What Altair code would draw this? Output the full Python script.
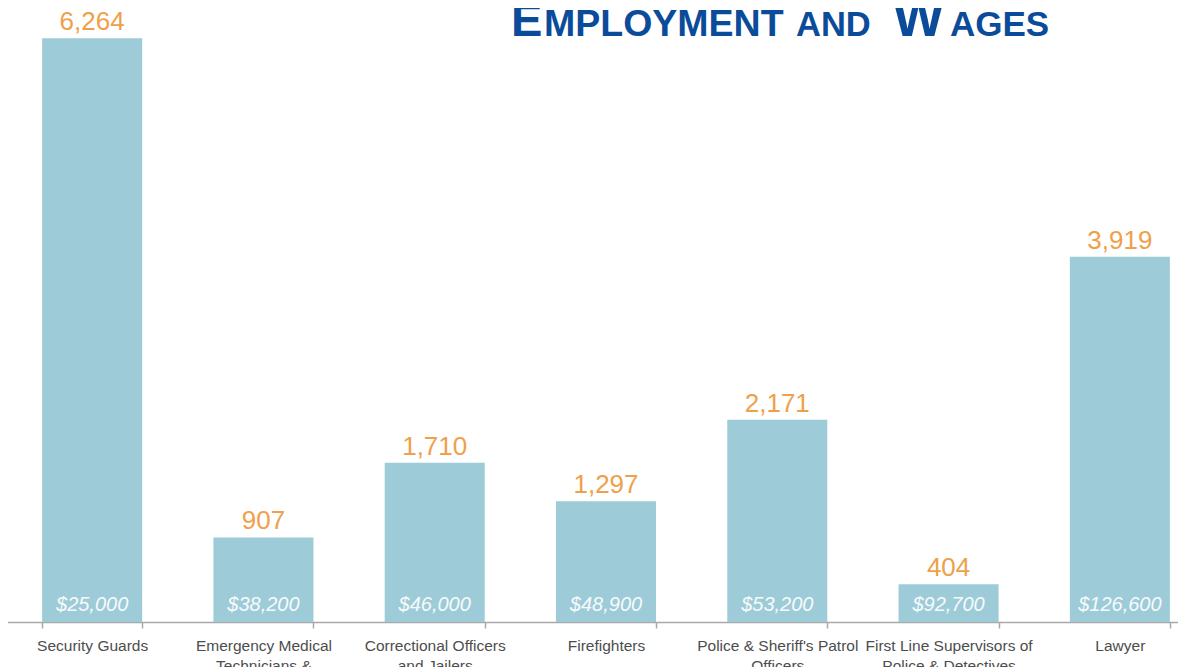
import altair as alt
import pandas as pd

categories = [
    "Security Guards",
    "Emergency Medical\nTechnicians &\nParamedics",
    "Correctional Officers\nand Jailers",
    "Firefighters",
    "Police & Sheriff's Patrol\nOfficers",
    "First Line Supervisors of\nPolice & Detectives",
    "Lawyer",
]
employment = [6264, 907, 1710, 1297, 2171, 404, 3919]
wages = [25000, 38200, 46000, 48900, 53200, 92700, 126600]

df = pd.DataFrame({"occupation": categories, "employment": employment, "wage": wages})

VIEW_W = 1170   # visible svg width (page is clipped at the window edge)
BAND_W = 1199   # full extent of the category bands (last band runs off-page)
H = 614
FONT = "Liberation Sans"
TITLE_COLOR = "#0B4C9A"

x = alt.X(
    "occupation:N",
    sort=categories,
    scale=alt.Scale(paddingInner=0.416, paddingOuter=0.208, range=[-1.5, BAND_W - 1.5]),
    axis=alt.Axis(
        title=None,
        labelAngle=0,
        labelExpr="split(datum.label, '\\n')",
        tickBand="extent",
        domainColor="#A9A9A9",
        domainWidth=1.5,
        tickColor="#A9A9A9",
        tickSize=6,
        tickWidth=1.5,
        labelFont=FONT,
        labelFontSize=15.5,
        labelColor="#4D4D4D",
        labelPadding=10,
        labelLineHeight=20,
        labelLimit=300,
        labelOverlap=False,
    ),
)
y = alt.Y("employment:Q", scale=alt.Scale(domain=[0, 6590], nice=False, zero=True), axis=None)

base = alt.Chart(df)

bars = base.mark_bar(color="#9DCCD8").encode(x=x, y=y)

emp_text = base.mark_text(
    dy=-8, baseline="alphabetic", fontSize=26, color="#EFA04A", font=FONT
).encode(x=x, y=y, text=alt.Text("employment:Q", format=",d"))

wage_text = base.mark_text(
    dy=-11, baseline="alphabetic", fontSize=20, fontStyle="italic", color="#F7FAFB", font=FONT
).encode(x=x, y=alt.datum(0), text=alt.Text("wage:Q", format="$,d"))

title_parts = [("E", 503, 47), ("MPLOYMENT", 536, 37.5), ("AND", 788, 34.5), ("W", 885, 54), ("AGES", 942, 35)]
title_layers = []
for t, px, fs in title_parts:
    title_layers.append(
        alt.Chart(alt.Data(values=[{"t": t}]))
        .mark_text(align="left", baseline="alphabetic", font=FONT, fontWeight="bold", fontSize=fs, color=TITLE_COLOR)
        .encode(x=alt.value(px), y=alt.value(28.4), text="t:N")
    )

chart = (
    alt.layer(bars, emp_text, wage_text, *title_layers)
    .properties(
        width=VIEW_W,
        height=H,
        padding={"left": 0, "top": 0, "right": 0, "bottom": 60},
        autosize=alt.AutoSizeParams(type="none"),
        background="white",
    )
    .configure_view(stroke=None)
)

chart.save("out.html", embed_options={"renderer": "svg", "actions": False})
